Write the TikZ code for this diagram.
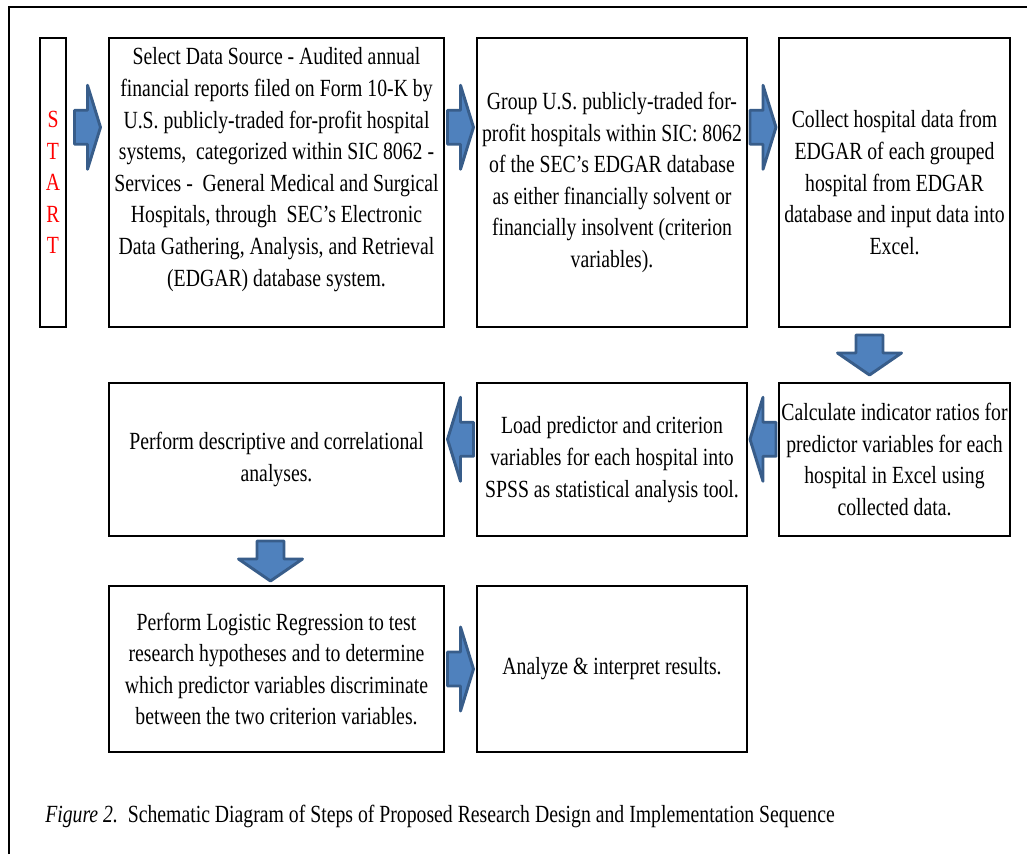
\documentclass[tikz,border=0pt]{standalone}
\usepackage{fontspec}
\setmainfont[FakeStretch=0.80]{Liberation Serif}
\usetikzlibrary{calc}
\definecolor{arrowFill}{RGB}{79,129,189}
\definecolor{arrowLine}{RGB}{56,93,138}
\newcommand*{\px}{0.75pt}
\newcommand*{\boxFont}{\fontsize{18.5}{23.7}\selectfont}
\newcommand*{\rowA}{182.5}
\newcommand*{\rowB}{459.5}
\newcommand*{\rowC}{669}

\begin{document}
\begin{tikzpicture}[x=0.75pt, y=-0.75pt,
    box/.style={draw=black, line width=1.1pt, align=center, inner sep=0pt, font=\boxFont},
    arrowStyle/.style={fill=arrowFill, draw=arrowLine, line width=2.2pt, line join=round},
    harrow/.pic={\draw[arrowStyle] (-13,-17) -- (0,-17) -- (0,-42) -- (13,0) -- (0,42) -- (0,17) -- (-13,17) -- cycle;},
    varrow/.pic={\draw[arrowStyle] (-13.5,-20) -- (13.5,-20) -- (13.5,-2) -- (32,-2) -- (0,20) -- (-32,-2) -- (-13.5,-2) -- cycle;}]
        \useasboundingbox (0,0) rectangle (1027,854);
        \draw [line width=0.8pt] (9,854) -- (9,7) -- (1027,7);

        % first row
        \node [box, minimum width=26*\px, minimum height=289*\px, text=red] (start) at (53,\rowA) {S\\T\\A\\R\\T};
        \node [box, minimum width=335*\px, minimum height=289*\px] (src) at (276.5,\rowA) {};
        \node [align=center, font=\boxFont, inner sep=0pt] (srcText) at ($(src.center)+(0,-13)$) {Select Data Source - Audited annual\\
            financial reports filed on Form 10-K by\\
            U.S. publicly-traded for-profit hospital\\
            systems,\ \ categorized within SIC 8062 -\\
            Services -\ \ General Medical and Surgical\\
            Hospitals, through\ \ SEC's Electronic\\
            Data Gathering, Analysis, and Retrieval\\
            (EDGAR) database system.};
        \node [box, minimum width=270*\px, minimum height=289*\px] (grp) at (612,\rowA) {Group U.S. publicly-traded for-\\
            profit hospitals within SIC: 8062\\
            of the SEC’s EDGAR database\\
            as either financially solvent or\\
            financially insolvent (criterion\\
            variables).};
        \node [box, minimum width=231*\px, minimum height=289*\px] (col) at (894.5,\rowA) {Collect hospital data from\\
            EDGAR of each grouped\\
            hospital from EDGAR\\
            database and input data into\\
            Excel.};

        % second row
        \node [box, minimum width=335*\px, minimum height=153*\px] (desc) at (276.5,\rowB) {Perform descriptive and correlational\\
            analyses.};
        \node [box, minimum width=270*\px, minimum height=153*\px] (load) at (612,\rowB) {Load predictor and criterion\\
            variables for each hospital into\\
            SPSS as statistical analysis tool.};
        \node [box, minimum width=231*\px, minimum height=153*\px] (calc) at (894.5,\rowB) {Calculate indicator ratios for\\
            predictor variables for each\\
            hospital in Excel using\\
            collected data.};

        % third row
        \node [box, minimum width=335*\px, minimum height=166*\px] (logit) at (276.5,\rowC) {Perform Logistic Regression to test\\
            research hypotheses and to determine\\
            which predictor variables discriminate\\
            between the two criterion variables.};
        \node [box, minimum width=270*\px, minimum height=166*\px] (res) at (612,\rowC) {Analyze \& interpret results.};

        % block arrows
        \pic at ($(start.north east)!0.5!(src.north west)+(0,90)$) {harrow};
        \pic at ($(src.north east)!0.5!(grp.north west)+(0,90)$) {harrow};
        \pic at ($(grp.north east)!0.5!(col.north west)+(0,90)$) {harrow};
        \pic at ($(col.south)!0.5!(calc.north)+(-25,0)$) {varrow};
        \pic [rotate=180] at ($(calc.north west)!0.5!(load.north east)+(0,57)$) {harrow};
        \pic [rotate=180] at ($(load.north west)!0.5!(desc.north east)+(0,57)$) {harrow};
        \pic at ($(desc.south)!0.5!(logit.north)+(-6,0)$) {varrow};
        \pic at ($(logit.east)!0.5!(res.west)$) {harrow};

        \node [anchor=base west, font=\boxFont, inner sep=0pt] (caption) at (45,822) {\textit{Figure 2.}\ \ Schematic Diagram of Steps of Proposed Research Design and Implementation Sequence};
    \end{tikzpicture}
\end{document}
